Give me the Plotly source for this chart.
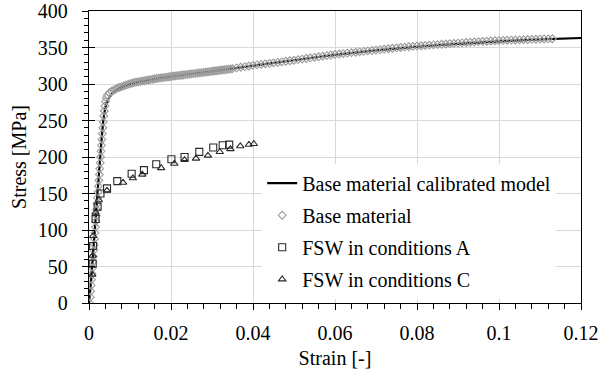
import plotly.graph_objects as go

# ---- data -------------------------------------------------------------
# Base material calibrated model (strain [-], stress [MPa])
model_strain = [0, 0.0005, 0.001, 0.0015, 0.002, 0.0025, 0.003, 0.0035, 0.004, 0.0045,
                0.005, 0.0055, 0.006, 0.007, 0.008, 0.01, 0.012, 0.015, 0.02, 0.025,
                0.03, 0.035, 0.04, 0.05, 0.06, 0.07, 0.08, 0.09, 0.1, 0.11, 0.12]
model_stress = [0, 30, 68, 106, 144, 182, 219, 250, 268, 277,
                282, 285.5, 288.5, 292.5, 295.5, 299.5, 302.5, 306, 310, 314,
                317.5, 321, 325, 332.5, 340, 346, 351, 355, 358.5, 361, 363]

# Base material test data
base_strain = [
    0.0001, 0.00031, 0.00041, 0.00052, 0.00062, 0.00073, 0.00083, 0.00094, 0.00104, 0.00115,
    0.00125, 0.00136, 0.00146, 0.00157, 0.00167, 0.00178, 0.00188, 0.00199, 0.00209, 0.0022,
    0.0023, 0.00241, 0.00252, 0.00262, 0.00273, 0.00283, 0.00294, 0.00304, 0.00315, 0.00325,
    0.00336, 0.00348, 0.0036, 0.00373, 0.00388, 0.00405, 0.00425,
    0.0045, 0.005, 0.0055, 0.006, 0.0065, 0.007, 0.0075, 0.008, 0.0085, 0.009,
    0.0095, 0.010, 0.0105, 0.011, 0.0115, 0.012, 0.0125, 0.013, 0.0135, 0.014,
    0.0145, 0.015, 0.0155, 0.016, 0.0165, 0.017, 0.0175, 0.018, 0.0185, 0.019,
    0.0195, 0.020, 0.0205, 0.021, 0.0215, 0.022, 0.0225, 0.023, 0.0235, 0.024,
    0.0245, 0.025, 0.0255, 0.026, 0.0265, 0.027, 0.0275, 0.028, 0.0285, 0.029,
    0.0295, 0.030, 0.0305, 0.031, 0.0315, 0.032, 0.0325, 0.033, 0.0335, 0.034,
    0.0345, 0.035,
    0.036, 0.037, 0.038, 0.039, 0.040, 0.041, 0.042, 0.043, 0.044, 0.045,
    0.046, 0.047, 0.048, 0.049, 0.050, 0.051, 0.052, 0.053, 0.054, 0.055,
    0.056, 0.057, 0.058, 0.059, 0.060, 0.061, 0.062, 0.063, 0.064, 0.065,
    0.066, 0.067, 0.068, 0.069, 0.070, 0.071, 0.072, 0.073, 0.074, 0.075,
    0.076, 0.077, 0.078, 0.079, 0.080, 0.081, 0.082, 0.083, 0.084, 0.085,
    0.086, 0.087, 0.088, 0.089, 0.090, 0.091, 0.092, 0.093, 0.094, 0.095,
    0.096, 0.097, 0.098, 0.099, 0.100, 0.101, 0.102, 0.103, 0.104, 0.105,
    0.106, 0.107, 0.108, 0.109, 0.110, 0.111, 0.112, 0.113,
]
base_stress = [
    0, 8, 16, 24, 32, 40, 48, 56, 64, 72,
    80, 88, 96, 104, 112, 120, 128, 136, 144, 152,
    160, 168, 176, 184, 192, 200, 208, 216, 224, 232,
    240, 248, 256, 263, 270, 276, 281,
    285, 288, 290, 291.5, 293, 294.5, 295.5, 296.5, 297.5, 298.5,
    299.5, 300.5, 301, 302, 302.5, 303, 303.5, 304, 304.5, 305,
    305.5, 306, 306.5, 307, 307.5, 308, 308.3, 308.7, 309, 309.5,
    310, 310.3, 310.7, 311, 311.4, 311.7, 312, 312.4, 312.8, 313.1,
    313.5, 313.8, 314.2, 314.5, 314.9, 315.3, 315.6, 316, 316.3, 316.7,
    317, 317.4, 317.8, 318.1, 318.5, 318.8, 319.2, 319.5, 319.9, 320.3,
    320.6, 321,
    322, 322.9, 323.8, 324.6, 325.5, 326.2, 326.9, 327.6, 328.3, 329,
    329.7, 330.4, 331.1, 331.8, 332.5, 333.3, 334.1, 334.9, 335.7, 336.5,
    337.3, 338.1, 338.9, 339.7, 340.5, 341.1, 341.7, 342.3, 342.9, 343.5,
    344.1, 344.7, 345.3, 345.9, 346.5, 347.1, 347.7, 348.3, 348.9, 349.5,
    350, 350.5, 351, 351.5, 352, 352.4, 352.8, 353.2, 353.6, 354,
    354.4, 354.8, 355.2, 355.6, 356, 356.4, 356.8, 357.2, 357.6, 358,
    358.3, 358.6, 358.9, 359.2, 359.5, 359.7, 359.9, 360.1, 360.3, 360.5,
    360.7, 360.9, 361.1, 361.3, 361.5, 361.7, 361.8, 362,
]

# Friction stir welded specimens
fsw_a_strain = [0.0009, 0.0010, 0.0016, 0.0021, 0.0028, 0.0044, 0.0069, 0.0104,
                0.0134, 0.0164, 0.0201, 0.0233, 0.0269, 0.0303, 0.0326, 0.0342]
fsw_a_stress = [54, 78, 115, 132, 150, 157, 167, 177,
                182, 190, 197, 200, 207, 213, 216, 217]

fsw_c_strain = [0.0008, 0.0009, 0.0010, 0.0016, 0.0024, 0.0044, 0.0083, 0.0107, 0.0130,
                0.0176, 0.0208, 0.0233, 0.0261, 0.0290, 0.0319, 0.0345, 0.0369, 0.0390, 0.0402]
fsw_c_stress = [39, 65, 92, 124, 141, 154, 165, 171, 176,
                185, 191, 196, 198, 202, 207, 211, 215, 217, 218]

x_range = [0, 0.12]
y_range = [0, 400]

FONT = "Liberation Serif, Times New Roman, serif"

# ---- figure -----------------------------------------------------------
fig = go.Figure()

fig.add_trace(go.Scatter(
    x=model_strain, y=model_stress, mode="lines",
    name="Base material calibrated model", legendgroup="g1",
    line=dict(color="black", width=2.2, shape="spline", smoothing=0.6),
))
fig.add_trace(go.Scatter(
    x=base_strain, y=base_stress, mode="markers",
    name="Base material", legendgroup="g2",
    marker=dict(symbol="diamond-open", size=6, color="#9c9c9c",
                line=dict(width=1.1, color="#9c9c9c")),
))
fig.add_trace(go.Scatter(
    x=fsw_a_strain, y=fsw_a_stress, mode="markers",
    name="FSW in conditions A", legendgroup="g3",
    marker=dict(symbol="square-open", size=7, color="#2a2a2a",
                line=dict(width=1.1, color="#2a2a2a")),
))
fig.add_trace(go.Scatter(
    x=fsw_c_strain, y=fsw_c_stress, mode="markers",
    name="FSW in conditions C", legendgroup="g4",
    marker=dict(symbol="triangle-up-open", size=6.5, color="#2a2a2a",
                line=dict(width=1.1, color="#2a2a2a")),
))
# inner half of the crossing major ticks on the stress axis
fig.add_trace(go.Scatter(x=[None], y=[None], yaxis="y2", showlegend=False,
                         hoverinfo="skip"))

fig.update_layout(
    width=616, height=372,
    margin=dict(l=88.5, r=35, t=11, b=68.5),
    paper_bgcolor="white", plot_bgcolor="white",
    font=dict(family=FONT, size=20, color="black"),
    showlegend=True,
    legend=dict(
        x=0.352, y=0.477, xanchor="left", yanchor="top",
        bgcolor="white", borderwidth=0,
        font=dict(family=FONT, size=20, color="black"),
        traceorder="grouped", tracegroupgap=3, itemwidth=30,
    ),
    xaxis=dict(
        range=x_range, dtick=0.02, tick0=0, automargin=False,
        showline=True, linecolor="black", linewidth=1.3, mirror=True,
        showgrid=True, gridcolor="#d9d9d9", gridwidth=1,
        zeroline=False,
        ticks="outside", ticklen=6, tickwidth=1.2, tickcolor="black",
        ticklabelstandoff=6,
        minor=dict(dtick=0.004, ticks="outside", ticklen=5, tickwidth=1,
                   tickcolor="black", showgrid=False),
        title=dict(text="Strain [-]", standoff=7,
                   font=dict(family=FONT, size=20, color="black")),
        tickfont=dict(family=FONT, size=20, color="black"),
    ),
    yaxis=dict(
        range=y_range, dtick=50, tick0=0, automargin=False,
        showline=True, linecolor="black", linewidth=1.3, mirror=True,
        showgrid=True, gridcolor="#d9d9d9", gridwidth=1,
        zeroline=False,
        ticks="outside", ticklen=6, tickwidth=1.2, tickcolor="black",
        ticklabelstandoff=10,
        minor=dict(dtick=10, ticks="outside", ticklen=4, tickwidth=1,
                   tickcolor="black", showgrid=False),
        title=dict(text="Stress [MPa]", standoff=5,
                   font=dict(family=FONT, size=20, color="black")),
        tickfont=dict(family=FONT, size=20, color="black"),
    ),
    yaxis2=dict(
        range=y_range, dtick=50, tick0=0, overlaying="y", side="left",
        automargin=False,
        showline=False, showgrid=False, zeroline=False, showticklabels=False,
        ticks="inside", ticklen=6, tickwidth=1.2, tickcolor="black",
    ),
)

fig.write_html("out.html")
